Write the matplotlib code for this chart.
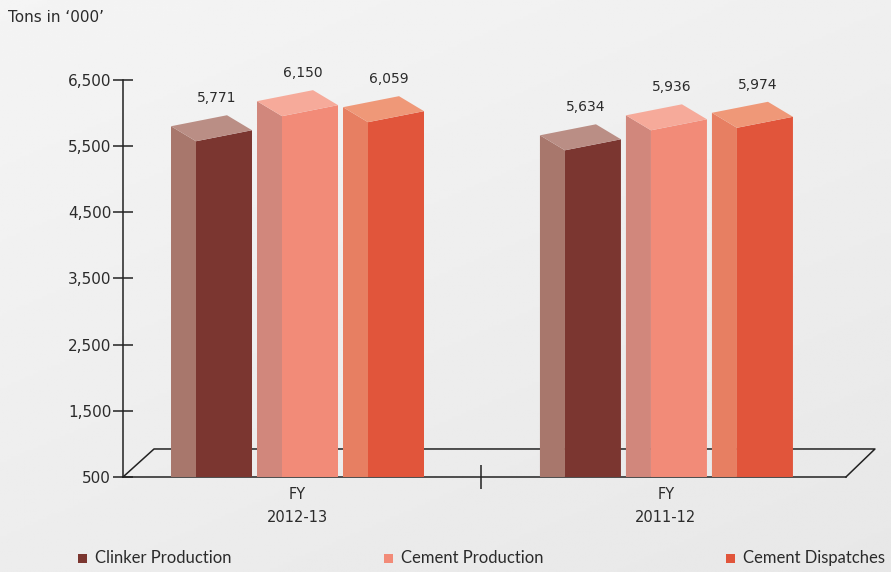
import numpy as np
import matplotlib.pyplot as plt
from matplotlib.patches import Polygon, Rectangle

plt.rcParams['font.family'] = ['DejaVu Sans']

# production figures, tons in '000
years = ['FY\n2012-13', 'FY\n2011-12']
series = ['Clinker Production', 'Cement Production', 'Cement Dispatches']
clinker = [5771, 5634]
cement = [6150, 5936]
dispatch = [6059, 5974]
yticks = [500, 1500, 2500, 3500, 4500, 5500, 6500]

values = [clinker, cement, dispatch]
# front, side, top shades for each series
front_col = ['#7b3630', '#f28b78', '#e1553b']
side_col = ['#a8776c', '#d1877c', '#e77f62']
top_col = ['#ba8e85', '#f6aa9a', '#ef9878']
ink = '#2b2b2b'

W, H = 891, 572
fig = plt.figure(figsize=(W / 100, H / 100), dpi=100)
ax = fig.add_axes([0, 0, 1, 1])
x0, x1 = -0.805, 1.610
y0, y1 = -936, 7709
ax.set_xlim(x0, x1)
ax.set_ylim(y0, y1)
px = (x1 - x0) / W      # one pixel in x units
py = (y1 - y0) / H      # one pixel in y units

# soft grey backdrop, lighter towards the top left
gx, gy = np.meshgrid(np.linspace(0, 1, 200), np.linspace(0, 1, 200))
shade = 0.958 - 0.05 * (0.6 * gy + 0.4 * gx)
ax.imshow(shade, cmap='gray', vmin=0, vmax=1, extent=[x0, x1, y0, y1],
          aspect='auto', zorder=0, origin='upper')

base = 500
floor_l = -174 * px
floor_r = 1 + 180 * px
depth_y = 28 * py

# floor outline (front edge is the bottom spine)
ax.plot([floor_l, floor_l + 31 * px, floor_r + 29 * px, floor_r],
        [base, base + depth_y, base + depth_y, base],
        color='#222222', lw=1.1, zorder=1)

pitch = 86 * px
for g in range(len(years)):
    for k in range(len(series)):
        v = values[k][g]
        c = g + (k - 1) * pitch
        sl, fl, fr = c - 40 * px, c - 15 * px, c + 41 * px
        fl_y = v - 13 * py
        fr_y = v - 2 * py
        side = Polygon([(sl, base), (fl, base), (fl, fl_y), (sl, v + 2 * py)],
                       closed=True, fc=side_col[k], ec='none', zorder=3)
        front = Polygon([(fl, base), (fr, base), (fr, fr_y), (fl, fl_y)],
                        closed=True, fc=front_col[k], ec='none', zorder=3)
        top = Polygon([(fl, fl_y), (fr, fr_y), (c + 16 * px, v + 13 * py),
                       (sl, v + 2 * py)],
                      closed=True, fc=top_col[k], ec='none', zorder=3)
        for p in (side, front, top):
            ax.add_patch(p)
        ax.text(c + 6 * px, v + 30 * py, f'{v:,}', ha='center', va='center',
                fontsize=10, color=ink, zorder=4)

# axes
for s in ['top', 'right']:
    ax.spines[s].set_visible(False)
ax.spines['left'].set_position(('data', floor_l))
ax.spines['left'].set_bounds(500, 6500)
ax.spines['bottom'].set_position(('data', base))
ax.spines['bottom'].set_bounds(floor_l, floor_r)
for s in ['left', 'bottom']:
    ax.spines[s].set_color('#222222')
    ax.spines[s].set_linewidth(1.1)
    ax.spines[s].set_zorder(1)

ax.set_yticks(yticks)
ax.set_yticklabels([f'{t:,}' for t in yticks])
ax.tick_params(axis='y', direction='inout', length=15, width=1.1,
               color='#222222', labelsize=11, labelcolor=ink, pad=1)
ax.set_xticks([0, 1])
ax.set_xticklabels(years, linespacing=1.7)
ax.tick_params(axis='x', length=0, labelsize=10.5, labelcolor=ink, pad=7)
ax.set_xticks([0.5], minor=True)
ax.tick_params(axis='x', which='minor', direction='inout', length=17,
               width=1.1, color='#222222')

fig.text(8 / W, 1 - 17 / H, "Tons in \u2018000\u2019", fontsize=11,
         color=ink, va='center', ha='left')

# legend row
for k, (name, lx) in enumerate(zip(series, [78, 384, 726])):
    fig.patches.append(Rectangle((lx / W, 1 - 563 / H), 9 / W, 9 / H,
                                 transform=fig.transFigure,
                                 fc=front_col[k], ec='none'))
    fig.text((lx + 17) / W, 1 - 558 / H, name, fontsize=12, color=ink,
             va='center', ha='left', family='Lato')

fig.savefig('out.png', dpi=100)
